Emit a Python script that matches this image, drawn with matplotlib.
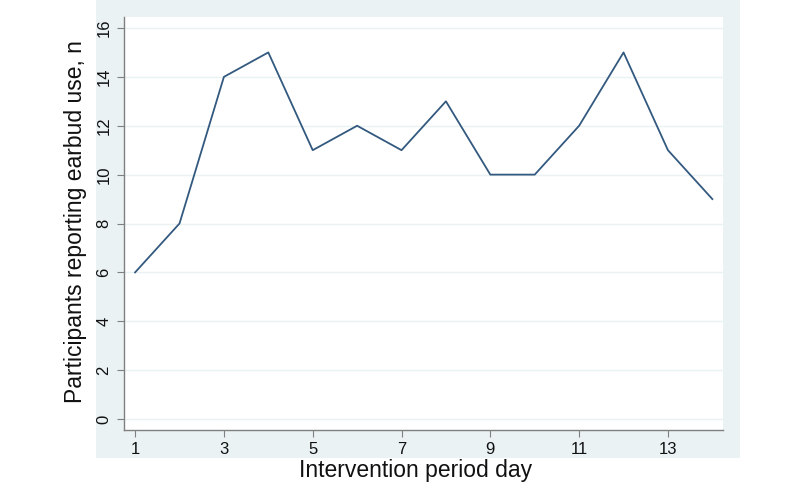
import matplotlib
matplotlib.use('Agg')
import matplotlib.pyplot as plt
from matplotlib.patches import Rectangle

days = [1, 2, 3, 4, 5, 6, 7, 8, 9, 10, 11, 12, 13, 14]
counts = [6, 8, 14, 15, 11, 12, 11, 13, 10, 10, 12, 15, 11, 9]
xticks = [1, 3, 5, 7, 9, 11, 13]
yticks = [0, 2, 4, 6, 8, 10, 12, 14, 16]

plt.rcParams['font.family'] = ['Liberation Sans', 'DejaVu Sans']

W, H = 800, 491
fig = plt.figure(figsize=(8, 4.91), dpi=100)
fig.patch.set_facecolor('white')

# light Stata-style graph region, drawn behind the axes
fig.patches.append(Rectangle((96 / W, 1 - 458 / H), (740 - 96) / W, 458 / H,
                             transform=fig.transFigure, facecolor='#eaf2f3',
                             edgecolor='none', zorder=-1))

ax = fig.add_axes([124 / W, 1 - 430 / H, (723 - 124) / W, (430 - 17) / H])
ax.set_zorder(1)
ax.set_facecolor('white')
ax.plot(days, counts, color='#33597f', lw=1.3, zorder=3)

ax.set_xlim(0.75, 14.24)
ax.set_ylim(-0.45, 16.45)
ax.set_xticks(xticks)
ax.set_yticks(yticks)
ax.set_yticklabels([str(v) for v in yticks], rotation=90, va='center')
ax.yaxis.grid(True, color='#eaf2f3', lw=1.0, zorder=0)

for s in ('top', 'right'):
    ax.spines[s].set_visible(False)
for s in ('left', 'bottom'):
    ax.spines[s].set_color('#808080')
    ax.spines[s].set_linewidth(1.0)
ax.tick_params(axis='both', direction='out', length=5, width=0.8,
               color='#808080', labelsize=12, labelcolor='#111111', pad=4)

fig.text(76 / W, 1 - 222 / H, 'Participants reporting earbud use, n',
         rotation=90, ha='center', va='center', fontsize=16.5, color='#111111')
fig.text(416 / W, 1 - 470 / H, 'Intervention period day',
         ha='center', va='center', fontsize=16.5, color='#111111')

fig.savefig('out.png', dpi=100)
